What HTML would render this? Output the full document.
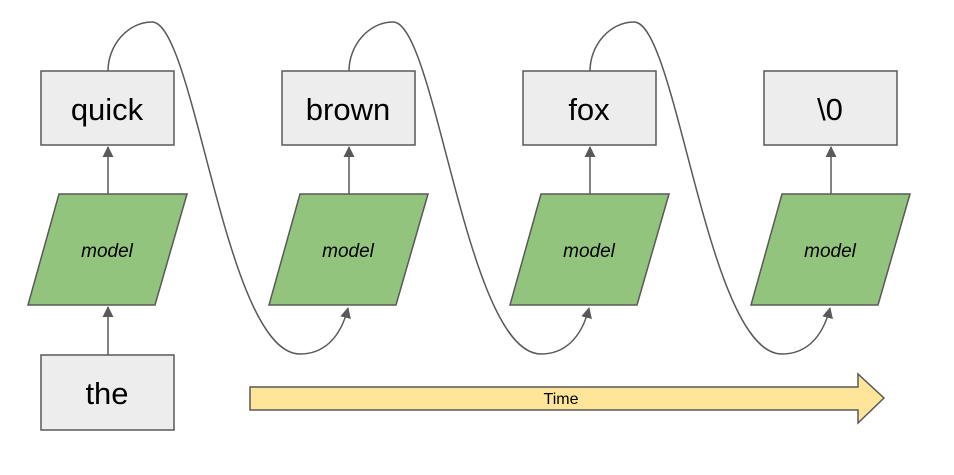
<!DOCTYPE html>
<html><head><style>body{margin:0;background:#fff}</style></head><body>
<svg width="954" height="470" xmlns="http://www.w3.org/2000/svg" font-family="Liberation Sans, sans-serif">
<defs><marker id="a" markerWidth="11" markerHeight="11" refX="10" refY="5.5" orient="auto" markerUnits="userSpaceOnUse"><path d="M0,0 L11,5.5 L0,11 z" fill="#595959"/></marker></defs>
<g id="u">
<rect x="41" y="71" width="133" height="74" fill="#ededed" stroke="#595959" stroke-width="1.5"/>
<polygon points="59,194 187,194 155,305 28,305" fill="#93c47d" stroke="#595959" stroke-width="1.5"/>
<line x1="108" y1="194" x2="108" y2="147" stroke="#595959" stroke-width="1.5" marker-end="url(#a)"/>
<text x="107" y="257" font-size="19" font-style="italic" text-anchor="middle">model</text>
</g>
<use href="#u" x="241"/><use href="#u" x="482"/><use href="#u" x="723"/>
<text x="107" y="120" font-size="31" text-anchor="middle">quick</text>
<text x="348" y="120" font-size="31" text-anchor="middle">brown</text>
<text x="589" y="120" font-size="31" text-anchor="middle">fox</text>
<text x="830" y="120" font-size="31" text-anchor="middle">\0</text>
<rect x="41" y="355" width="133" height="75" fill="#ededed" stroke="#595959" stroke-width="1.5"/>
<text x="107" y="404" font-size="31" text-anchor="middle">the</text>
<line x1="108" y1="355" x2="108" y2="307" stroke="#595959" stroke-width="1.5" marker-end="url(#a)"/>
<g id="c"><path d="M108,71 C108,45 128,22 152,22 C195,22 225,354 300,354 C322,354 340,340 348,308" fill="none" stroke="#595959" stroke-width="1.5" marker-end="url(#a)"/></g>
<use href="#c" x="241"/><use href="#c" x="482"/>
<polygon points="250,387 858,387 858,374 884,398 858,423 858,410 250,410" fill="#ffe599" stroke="#595959" stroke-width="1.5"/>
<text x="561" y="404" font-size="16" text-anchor="middle">Time</text>
</svg>
</body></html>
